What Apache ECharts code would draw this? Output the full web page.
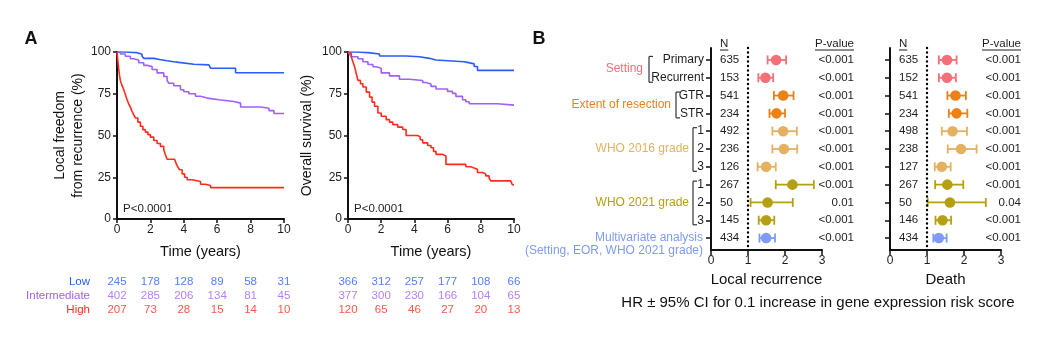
<!DOCTYPE html>
<html><head><meta charset="utf-8">
<script src="https://cdn.jsdelivr.net/npm/echarts@6/dist/echarts.min.js"></script>
<style>html,body{margin:0;padding:0;background:#fff}#c{width:1054px;height:340px}</style>
</head><body><div id="c"></div>
<script>
const FONT = '"Liberation Sans", Arial, Helvetica, sans-serif';
const TXT = '#1e1e1e';
const AX = '#111';

// ---- Panel A data ----
const years = [0, 2, 4, 6, 8, 10];
const riskGroups = ['Low', 'Intermediate', 'High'];
const riskColors = ['#2b5cf5', '#a160f6', '#ff2c1c'];

const lrfLow = [[0,100],[0.5,99.6],[1.2,98.6],[1.5,97.4],[1.6,96.2],[2.2,95.5],[2.55,94.8],[3.0,94.2],[3.4,93.8],[3.7,92.7],[4.6,92.3],[5.5,91.3],[5.6,90.3],[7.1,87.6],[10,87.6]];
const lrfInt = [[0,100],[0.2,98.8],[0.5,97.5],[0.8,96],[1.0,95.2],[1.3,93.6],[1.6,92],[1.8,91.3],[2.1,89.5],[2.4,87.5],[2.8,85.3],[3.0,83],[3.1,81.3],[3.4,79.8],[3.8,77.4],[4.0,76.2],[4.3,75],[4.7,73.5],[5.0,72.4],[5.4,71.4],[6.1,70.4],[7.0,69.4],[7.4,67.1],[8.6,66.3],[9.1,64.9],[9.4,63.2],[10,63.2]];
const lrfHigh = [[0,100],[0.05,95],[0.1,90],[0.15,86],[0.2,83],[0.3,80],[0.4,77.5],[0.5,74.5],[0.6,71.5],[0.7,69],[0.8,67],[0.9,64.5],[1.0,62.5],[1.1,60.5],[1.25,58],[1.4,55.5],[1.55,53.5],[1.7,52],[1.85,50.5],[2.0,49],[2.2,47],[2.4,45.2],[2.6,43.5],[2.8,41.5],[2.9,38.5],[3.0,35.8],[3.45,35.2],[3.55,33],[3.65,31],[3.75,29.5],[3.9,27],[4.05,25],[4.2,23.5],[4.5,22.5],[5.0,20.8],[5.3,20],[5.6,18.8],[10,18.8]];

const osLow = [[0,100],[0.5,99.6],[1.2,98.8],[1.9,97.6],[3.5,97.2],[4.3,96.2],[4.9,95.2],[5.3,94.2],[7.0,93.8],[7.2,92.9],[7.6,91.3],[7.8,89],[10,89]];
const osInt = [[0,100],[0.1,98.5],[0.2,97.2],[0.6,96],[0.9,94.2],[1.2,92.5],[1.5,91.2],[1.7,90.3],[2.0,87.5],[2.5,85.7],[3.1,83.7],[3.7,82.9],[4.5,81.7],[4.7,80.8],[5.0,79.4],[5.3,77.8],[6.0,76.4],[6.3,75.2],[6.5,73.4],[6.9,71.4],[7.1,70.2],[7.3,69],[9.0,68.2],[10,68.2]];
const osHigh = [[0,100],[0.1,99],[0.2,97],[0.3,94],[0.4,91],[0.5,87],[0.6,83],[0.75,81],[0.9,79],[1.1,76],[1.3,73],[1.45,70],[1.6,67.5],[1.8,63.5],[2.0,61.5],[2.3,59.5],[2.5,58],[2.7,56.5],[3.0,55],[3.3,53.6],[3.5,50],[4.2,49.2],[4.35,47.5],[4.5,45.6],[4.8,44],[5.0,42.7],[5.15,40.5],[5.3,38.7],[5.7,37.7],[5.9,32.7],[6.9,32.7],[7.1,31.3],[7.4,30.5],[7.6,29.8],[7.8,27.8],[8.1,27],[8.3,25.8],[8.5,24.5],[8.6,22.8],[9.8,22.2],[9.9,20.5],[10,20.5]];

const riskLrf = [[245,178,128,89,58,31],[402,285,206,134,81,45],[207,73,28,15,14,10]];
const riskOs = [[366,312,257,177,108,66],[377,300,230,166,104,65],[120,65,46,27,20,13]];

// ---- Panel B data ----
const rowLabels = ['Primary','Recurrent','GTR','STR','1','2','3','1','2','3'];
const rowGroup = [0,0,1,1,2,2,2,3,3,3,4];
const groupNames = ['Setting','Extent of resection','WHO 2016 grade','WHO 2021 grade'];
const groupRows = [[0,1],[2,3],[4,6],[7,9]];
const groupColors = ['#f56f78','#ec8116','#e5b05f','#b5a014','#7e9bf5'];
const multiLabel = ['Multivariate analysis','(Setting, EOR, WHO 2021 grade)'];

const lrN  = [635,153,541,234,492,236,126,267,50,145,434];
const lrHR = [1.76,1.47,1.95,1.77,1.95,1.97,1.49,2.20,1.53,1.49,1.49];
const lrLo = [1.53,1.28,1.70,1.58,1.66,1.66,1.26,1.75,1.07,1.29,1.31];
const lrHi = [2.03,1.68,2.23,2.00,2.32,2.33,1.75,2.78,2.21,1.71,1.73];
const lrP  = ['<0.001','<0.001','<0.001','<0.001','<0.001','<0.001','<0.001','<0.001','0.01','<0.001','<0.001'];

const dN  = [635,152,541,234,498,238,127,267,50,146,434];
const dHR = [1.54,1.54,1.77,1.80,1.69,1.92,1.40,1.55,1.62,1.42,1.32];
const dLo = [1.32,1.32,1.55,1.59,1.40,1.56,1.21,1.22,1.02,1.23,1.17];
const dHi = [1.80,1.78,2.05,2.09,2.08,2.34,1.64,1.98,2.59,1.65,1.53];
const dP  = ['<0.001','<0.001','<0.001','<0.001','<0.001','<0.001','<0.001','<0.001','0.04','<0.001','<0.001'];

// ---------------------------------------------------------
const chart = echarts.init(document.getElementById('c'), null, {renderer:'canvas'});

function kmX(g){
  return {gridIndex:g, type:'value', min:0, max:10, interval:2,
    axisLine:{onZero:false, lineStyle:{color:AX,width:2}}, axisTick:{length:4,lineStyle:{color:AX,width:1.5}},
    axisLabel:{fontSize:12,color:TXT,fontFamily:FONT,margin:5}, splitLine:{show:false},
    name:'Time (years)', nameLocation:'middle', nameGap:25,
    nameTextStyle:{fontSize:14.5,color:AX,fontFamily:FONT}};
}
function kmY(g, name, gap){
  return {gridIndex:g, type:'value', min:0, max:100, interval:25,
    axisLine:{show:true,onZero:false,lineStyle:{color:AX,width:2}}, axisTick:{show:true,length:4,lineStyle:{color:AX,width:1.5}},
    axisLabel:{fontSize:12,color:TXT,fontFamily:FONT,margin:6}, splitLine:{show:false},
    name:name, nameLocation:'middle', nameGap:gap,
    nameTextStyle:{fontSize:14,color:AX,fontFamily:FONT,lineHeight:18}};
}
function kmSeries(data, ci, xi){
  return {type:'line', xAxisIndex:xi, yAxisIndex:xi, step:'end', data:data, showSymbol:false,
    lineStyle:{color:riskColors[ci], width:1.6}, itemStyle:{color:riskColors[ci]}, silent:true, z:3};
}
function riskSeries(counts, ci, xi){
  return {type:'scatter', xAxisIndex:xi, yAxisIndex:xi, symbolSize:0, clip:false,
    data: years.map((t,i)=>[t, riskGroups[ci], counts[i]]),
    label:{show:true, position:'inside', formatter:p=>String(p.value[2]), color:riskColors[ci], fontSize:11.5, fontFamily:FONT},
    silent:true};
}
function forestSeries(xi, N, HR, LO, HI, P, pOffset){
  const data = HR.map((h,i)=>[h, i, LO[i], HI[i], rowGroup[i]]);
  return {type:'custom', xAxisIndex:xi, yAxisIndex:xi, clip:false, silent:true,
    data:data, encode:{x:[0,2,3], y:1},
    renderItem:function(params, api){
      const row = api.value(1);
      const c = api.coord([api.value(0), row]);
      const lo = api.coord([api.value(2), row]);
      const hi = api.coord([api.value(3), row]);
      const a0 = api.coord([0, row]);
      const a3 = api.coord([3, row]);
      const col = groupColors[api.value(4)];
      const h = 4.5, lw = 1.8;
      const i = params.dataIndex;
      return {type:'group', children:[
        {type:'line', shape:{x1:lo[0],y1:lo[1],x2:hi[0],y2:hi[1]}, style:{stroke:col,lineWidth:lw}},
        {type:'line', shape:{x1:lo[0],y1:lo[1]-h,x2:lo[0],y2:lo[1]+h}, style:{stroke:col,lineWidth:lw}},
        {type:'line', shape:{x1:hi[0],y1:hi[1]-h,x2:hi[0],y2:hi[1]+h}, style:{stroke:col,lineWidth:lw}},
        {type:'circle', shape:{cx:c[0],cy:c[1],r:5.3}, style:{fill:col}},
        {type:'text', x:a0[0]+9, y:a0[1], style:{text:String(N[i]), fill:TXT, font:'11.5px '+FONT, textAlign:'left', textVerticalAlign:'middle'}},
        {type:'text', x:a3[0]+pOffset, y:a3[1], style:{text:P[i], fill:TXT, font:'11.5px '+FONT, textAlign:'right', textVerticalAlign:'middle'}}
      ]};
    },
    markLine:{silent:true, symbol:['none','none'], label:{show:false},
      lineStyle:{color:'#000', width:2.4, type:[0.1,4.4], cap:'round'},
      data:[{xAxis:1}]}
  };
}
function forestX(g, name){
  return {gridIndex:g, type:'value', min:0, max:3, interval:1,
    axisLine:{onZero:false, lineStyle:{color:AX,width:2}}, axisTick:{length:5,lineStyle:{color:AX,width:1.5}},
    axisLabel:{fontSize:12,color:TXT,fontFamily:FONT,margin:5}, splitLine:{show:false},
    name:name, nameLocation:'middle', nameGap:22,
    nameTextStyle:{fontSize:15,color:AX,fontFamily:FONT}};
}
const rowIdx = lrN.map((_,i)=>i);
function forestY(g, showLabels){
  return {gridIndex:g, type:'value', inverse:true, min:-0.67, max:10.67,
    axisLine:{show:true,onZero:false,lineStyle:{color:AX,width:2}},
    axisTick:{show:true, length:5, lineStyle:{color:AX,width:1.5}, customValues:rowIdx},
    axisLabel:{show:showLabels, customValues:rowIdx.slice(0,10), formatter:v=>rowLabels[Math.round(v)]||'',
      fontSize:12, color:TXT, fontFamily:FONT, margin:7},
    splitLine:{show:false}};
}

const option = {
  animation:false,
  backgroundColor:'#fff',
  textStyle:{fontFamily:FONT},
  grid:[
    {left:117, top:52, width:167, height:167},
    {left:348, top:52, width:166, height:167},
    {left:117, top:275, width:167, height:42},
    {left:348, top:275, width:166, height:42},
    {left:711, top:48, width:111, height:202},
    {left:890, top:48, width:111, height:202}
  ],
  xAxis:[
    kmX(0), kmX(1),
    {gridIndex:2, type:'value', min:0, max:10, show:false},
    {gridIndex:3, type:'value', min:0, max:10, show:false},
    forestX(4,'Local recurrence'), forestX(5,'Death')
  ],
  yAxis:[
    kmY(0,'Local freedom\nfrom recurrence (%)',30), kmY(1,'Overall survival (%)',32),
    {gridIndex:2, type:'category', data:riskGroups, inverse:true,
      axisLine:{show:false}, axisTick:{show:false},
      axisLabel:{interval:0, margin:27, fontSize:11.5, fontFamily:FONT,
        formatter:(v)=>'{g'+riskGroups.indexOf(v)+'|'+v+'}',
        rich:{g0:{color:riskColors[0],fontSize:11.5,fontFamily:FONT},g1:{color:riskColors[1],fontSize:11.5,fontFamily:FONT},g2:{color:riskColors[2],fontSize:11.5,fontFamily:FONT}}}},
    {gridIndex:3, type:'category', data:riskGroups, inverse:true, show:false},
    forestY(4,true), forestY(5,false)
  ],
  series:[
    kmSeries(lrfLow,0,0), kmSeries(lrfInt,1,0), kmSeries(lrfHigh,2,0),
    kmSeries(osLow,0,1), kmSeries(osInt,1,1), kmSeries(osHigh,2,1),
    riskSeries(riskLrf[0],0,2), riskSeries(riskLrf[1],1,2), riskSeries(riskLrf[2],2,2),
    riskSeries(riskOs[0],0,3), riskSeries(riskOs[1],1,3), riskSeries(riskOs[2],2,3),
    forestSeries(4, lrN, lrHR, lrLo, lrHi, lrP, 32),
    forestSeries(5, dN, dHR, dLo, dHi, dP, 20)
  ]
};
chart.setOption(option);

// ---- annotations positioned from the axes ----
const px = (g, x, y) => chart.convertToPixel({gridIndex:g}, [x, y]);
const mctx = document.createElement('canvas').getContext('2d');
function tw(t, size){ mctx.font = size+'px '+FONT; return mctx.measureText(t).width; }
const G = [];
function text(x, y, t, opt){
  opt = opt || {};
  G.push({type:'text', x:x, y:y, silent:true, style:{text:t, fill:opt.fill||TXT,
    font:(opt.weight||'normal')+' '+(opt.size||12)+'px '+FONT,
    textAlign:opt.align||'left', textVerticalAlign:opt.va||'middle'}});
}
function line(x1,y1,x2,y2,col,w){
  G.push({type:'line', silent:true, shape:{x1:x1,y1:y1,x2:x2,y2:y2}, style:{stroke:col,lineWidth:w||1.3}});
}

// panel letters
text(31, 39, 'A', {weight:'bold', size:18, align:'center', fill:'#111'});
text(539, 39, 'B', {weight:'bold', size:18, align:'center', fill:'#111'});

// P values in KM
[0,1].forEach(g=>{
  const o = px(g, 0, 0);
  text(o[0]+6, o[1]-10, 'P<0.0001', {size:11.5});
});

// forest headers
[[4,32],[5,20]].forEach(([g,pOff])=>{
  const a = px(g, 0, -0.67), b = px(g, 3, -0.67);
  const hy = a[1]-4;
  const nx = a[0]+9;
  text(nx, hy, 'N', {size:11.5});
  line(nx, hy+6, nx+tw('N',11.5), hy+6, TXT, 1);
  const prx = b[0]+pOff;
  text(prx, hy, 'P-value', {size:11.5, align:'right'});
  line(prx-tw('P-value',11.5), hy+6, prx, hy+6, TXT, 1);
});

// groups: brackets + names
const bracketOff = [62,35,18,18];
const labelGap = [6,5,4,4];
groupNames.forEach((name, k)=>{
  const [r0, r1] = groupRows[k];
  const p0 = px(4, 0, r0), p1 = px(4, 0, r1);
  const bx = p0[0] - bracketOff[k];
  const y0 = p0[1]-3.5, y1 = p1[1]+4.5;
  line(bx, y0, bx, y1, '#333', 1.2);
  line(bx, y0, bx+4, y0, '#333', 1.2);
  line(bx, y1, bx+4, y1, '#333', 1.2);
  text(bx - labelGap[k], (p0[1]+p1[1])/2, name, {fill:groupColors[k], align:'right', size:12});
});
// multivariate label
const pm = px(4, 0, 10);
text(pm[0]-8, pm[1], multiLabel[0], {fill:groupColors[4], align:'right', size:12});
text(pm[0]-8, pm[1]+13, multiLabel[1], {fill:groupColors[4], align:'right', size:12});

// bottom caption
text(818, 303, 'HR ± 95% CI for 0.1 increase in gene expression risk score', {size:15, align:'center', fill:'#111'});

chart.setOption({graphic:G});
</script>
</body></html>
